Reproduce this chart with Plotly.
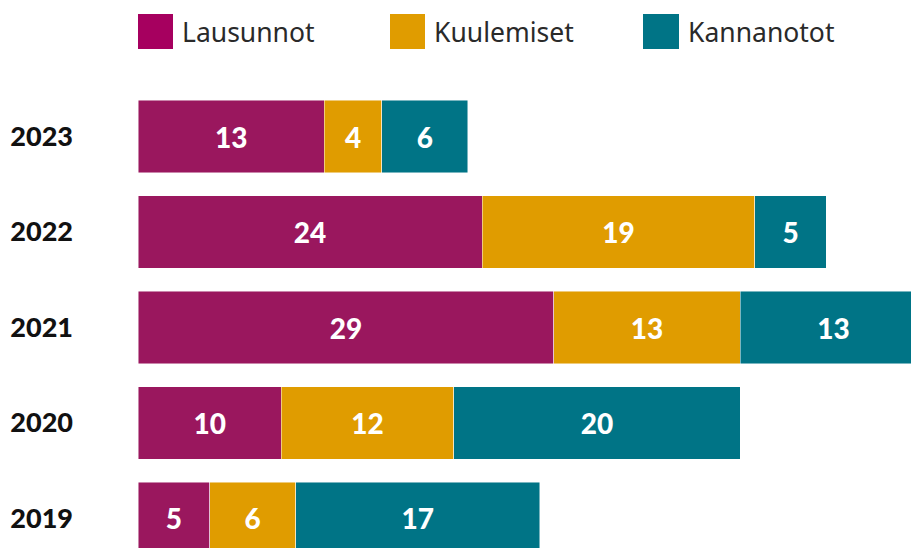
import plotly.graph_objects as go

years = ["2019", "2020", "2021", "2022", "2023"]
lausunnot = [5, 10, 29, 24, 13]
kuulemiset = [6, 12, 13, 19, 4]
kannanotot = [17, 20, 13, 5, 6]
series_names = ["Lausunnot", "Kuulemiset", "Kannanotot"]
bar_colors = ["#9A175E", "#E09C00", "#007486"]
legend_colors = ["#A6005F", "#E09C00", "#007486"]

# page has an 8px body margin; figure origin sits at (8, 8) in the window
OFF = 8
W, H = 919 - OFF, 548 - OFF
ML, MR, MT, MB = 138 - OFF, 0, 88 - OFF, 0
PW, PH = W - ML - MR, H - MT - MB

def px_x(p):
    return (p - OFF - ML) / PW

def px_y(p):
    return (H - MB - (p - OFF)) / PH

FONT = "Lato"
fig = go.Figure()
for name, vals, col in zip(series_names, [lausunnot, kuulemiset, kannanotot], bar_colors):
    fig.add_trace(go.Bar(
        y=list(range(len(years))), x=vals, orientation="h", name=name,
        marker=dict(color=col, line=dict(color="rgba(255,255,255,0.6)", width=0.8)),
        text=[str(v) for v in vals], textposition="inside", insidetextanchor="middle",
        textfont=dict(color="white", size=28, family=FONT, weight=900),
        constraintext="none", showlegend=False,
    ))

fig.update_layout(
    width=W, height=H, barmode="stack", bargap=0.245,
    margin=dict(l=ML, r=MR, t=MT, b=MB),
    plot_bgcolor="white", paper_bgcolor="white",
    xaxis=dict(range=[0, 54.46], visible=False, fixedrange=True),
    yaxis=dict(range=[-0.309, 4.508], tickmode="array",
               tickvals=list(range(len(years))), ticktext=years,
               showgrid=False, zeroline=False, showline=False, ticks="",
               tickfont=dict(size=27, family=FONT, color="#111111", weight=900),
               ticklabelstandoff=64),
    uniformtext=dict(mode="show", minsize=10),
)

leg_sq = [(138, 173), (390, 425), (643, 679)]
leg_tx = [180, 432, 686]
for (x0, x1), tx, name, col in zip(leg_sq, leg_tx, series_names, legend_colors):
    fig.add_shape(type="rect", xref="paper", yref="paper",
                  x0=px_x(x0), x1=px_x(x1), y0=px_y(49), y1=px_y(14),
                  fillcolor=col, line=dict(width=0))
    fig.add_annotation(xref="paper", yref="paper", x=px_x(tx), y=px_y(31.5),
                       xanchor="left", yanchor="middle", text=name, showarrow=False,
                       font=dict(size=26.5, family="Noto Sans", color="#2a2a2a"))

fig.write_html("out.html")
